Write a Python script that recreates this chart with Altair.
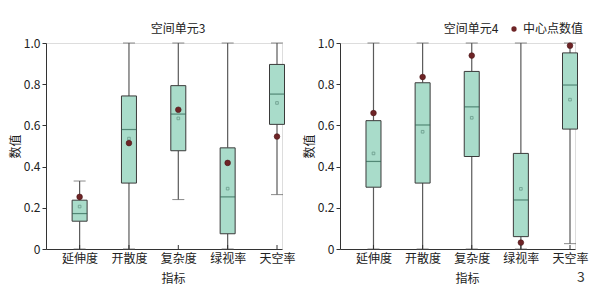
import json
import altair as alt
import pandas as pd

categories = ["延伸度", "开散度", "复杂度", "绿视率", "天空率"]
panel_titles = ["空间单元3", "空间单元4"]
legend_label = "中心点数值"
x_title = "指标"
y_title = "数值"
y_ticks = [0, 0.2, 0.4, 0.6, 0.8, 1.0]

# 空间单元3
p3_low = [0.0, 0.0, 0.24, 0.0, 0.264]
p3_q1 = [0.135, 0.32, 0.477, 0.074, 0.605]
p3_med = [0.172, 0.58, 0.655, 0.253, 0.752]
p3_q3 = [0.237, 0.743, 0.793, 0.491, 0.896]
p3_high = [0.33, 1.0, 1.0, 1.0, 1.0]
p3_mean = [0.206, 0.536, 0.634, 0.293, 0.709]
p3_center = [0.253, 0.514, 0.676, 0.418, 0.546]

# 空间单元4
p4_low = [0.0, 0.0, 0.0, 0.0, 0.026]
p4_q1 = [0.30, 0.32, 0.449, 0.06, 0.582]
p4_med = [0.425, 0.602, 0.69, 0.238, 0.796]
p4_q3 = [0.623, 0.807, 0.862, 0.464, 0.952]
p4_high = [1.0, 1.0, 1.0, 1.0, 1.0]
p4_mean = [0.464, 0.569, 0.637, 0.292, 0.725]
p4_center = [0.66, 0.835, 0.939, 0.031, 0.987]

FONT = "Noto Sans CJK SC"
BOX_FILL = "#a9dcca"
BOX_STROKE = "#3a3a3a"
MED_COLOR = "#2d6453"
WHISKER = "#5a5a5a"
DOT = "#6e2426"
TEXT = "#222222"
H = 206


def make_df(low, q1, med, q3, high, mean, center):
    return pd.DataFrame({
        "idx": list(range(1, len(categories) + 1)),
        "cat": categories,
        "low": low, "q1": q1, "med": med, "q3": q3, "high": high,
        "mean": mean, "center": center,
    })


label_expr = json.dumps(categories) + "[datum.value - 1]"


def panel(df, title, width, with_legend, extra_text=None):
    xaxis = alt.Axis(values=list(range(1, len(categories) + 1)), labelExpr=label_expr,
                     title=x_title, ticks=False, grid=False, labelPadding=4,
                     labelFontSize=12, titleFontSize=12, titleFontWeight="normal",
                     titleX=127, titleY=29, titleBaseline="middle",
                     domainColor="#333333", labelColor=TEXT, titleColor=TEXT,
                     labelFont=FONT, titleFont=FONT)
    yaxis = alt.Axis(values=y_ticks,
                     labelExpr="datum.value == 0 ? '0' : format(datum.value, '.1f')",
                     title=y_title, tickSize=4, labelPadding=2, grid=False,
                     labelFontSize=12, titleFontSize=12, titleFontWeight="normal",
                     titleAngle=-90, titleX=-31, titleY=H / 2,
                     titleAlign="center", titleBaseline="middle",
                     domainColor="#333333", tickColor="#333333",
                     labelColor=TEXT, titleColor=TEXT, labelFont=FONT, titleFont=FONT)
    xs = alt.Scale(domain=[0.42, 5], nice=False, zero=False)
    ys = alt.Scale(domain=[0, 1], nice=False)
    X = alt.X("idx:Q", scale=xs, axis=xaxis)

    def Y(f):
        return alt.Y(f + ":Q", scale=ys, axis=yaxis)

    base = alt.Chart(df)
    lower = base.mark_rule(color=WHISKER, strokeWidth=1.2).encode(x=X, y=Y("low"), y2="q1:Q")
    upper = base.mark_rule(color=WHISKER, strokeWidth=1.2).encode(x=X, y=Y("q3"), y2="high:Q")
    cap_hi = base.mark_tick(orient="horizontal", size=12, thickness=1, color=WHISKER).encode(x=X, y=Y("high"))
    cap_lo = base.mark_tick(orient="horizontal", size=12, thickness=1, color=WHISKER).encode(x=X, y=Y("low"))
    box = base.mark_bar(size=15, fill=BOX_FILL, stroke=BOX_STROKE, strokeWidth=1).encode(
        x=X, y=Y("q1"), y2="q3:Q")
    med = base.mark_tick(orient="horizontal", size=15, thickness=1.2, color=MED_COLOR).encode(x=X, y=Y("med"))
    mean = base.mark_point(shape="square", size=7, filled=False, color="#4f7f70",
                           strokeWidth=0.8).encode(x=X, y=Y("mean"))
    cen = base.mark_point(shape="circle", size=32, filled=True, color=DOT, opacity=1,
                          stroke="#4a1416", strokeWidth=0.6).encode(x=X, y=Y("center"))
    xt = base.mark_rule(color="#333333", strokeWidth=1).encode(
        x=X, y=alt.value(H), y2=alt.value(H - 4))

    tdf = pd.DataFrame({"t": [title]})
    ttl = alt.Chart(tdf).mark_text(font=FONT, fontSize=12, color=TEXT, align="center",
                                   baseline="middle").encode(
        text="t:N", x=alt.value(132 if not with_legend else 131), y=alt.value(-14))
    layers = [lower, upper, cap_hi, cap_lo, box, med, mean, cen, xt, ttl]
    if with_legend:
        ldf = pd.DataFrame({"t": [legend_label]})
        ldot = alt.Chart(ldf).mark_point(shape="circle", size=28, filled=True, color=DOT,
                                         opacity=1).encode(x=alt.value(174), y=alt.value(-14))
        ltxt = alt.Chart(ldf).mark_text(font=FONT, fontSize=12, color=TEXT, align="left",
                                        baseline="middle").encode(
            text="t:N", x=alt.value(183), y=alt.value(-14))
        layers += [ldot, ltxt]
    if extra_text is not None:
        edf = pd.DataFrame({"t": [extra_text]})
        layers.append(alt.Chart(edf).mark_text(font=FONT, fontSize=14, color="#333333",
                                               align="center", baseline="middle").encode(
            text="t:N", x=alt.value(241), y=alt.value(235)))
    return alt.layer(*layers).properties(width=width, height=H)


left = panel(make_df(p3_low, p3_q1, p3_med, p3_q3, p3_high, p3_mean, p3_center),
             panel_titles[0], 236, False)
right = panel(make_df(p4_low, p4_q1, p4_med, p4_q3, p4_high, p4_mean, p4_center),
              panel_titles[1], 235, True, extra_text="3")

chart = alt.hconcat(left, right, spacing=58, bounds="flush").properties(
    padding={"left": 8, "top": 22, "right": 0, "bottom": 0}
).configure_view(stroke=None).configure(background="white")

chart.save("out.html", embed_options={"renderer": "svg", "actions": False})
